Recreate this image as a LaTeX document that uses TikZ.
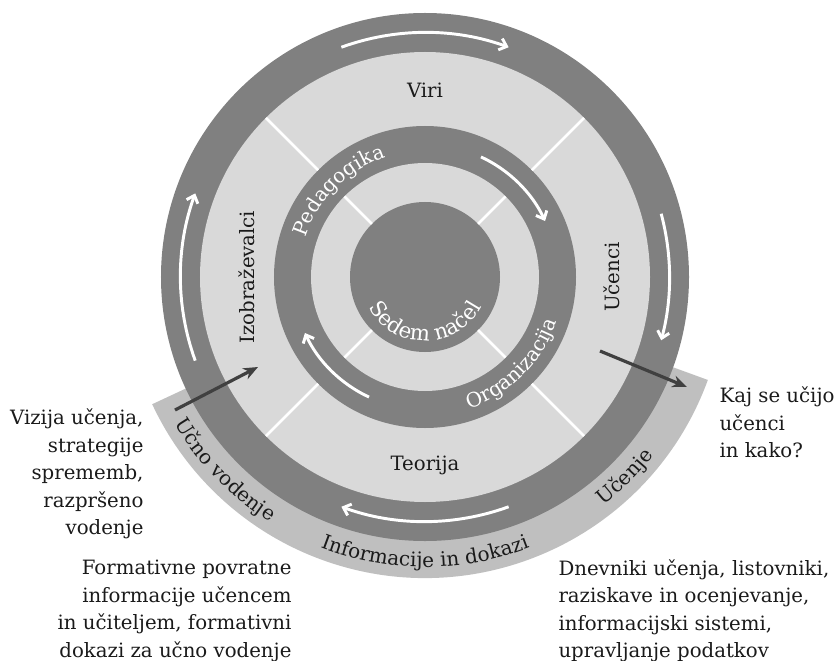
\documentclass[tikz,border=0pt]{standalone}
\usepackage{fontspec}
\setmainfont{DejaVu Serif}
\usetikzlibrary{arrows.meta,decorations.text}

\definecolor{ringdark}{HTML}{808080}
\definecolor{ringlight}{HTML}{D9D9D9}
\definecolor{bandgrey}{HTML}{BFBFBF}
\definecolor{pointer}{HTML}{404040}
\definecolor{inkblack}{HTML}{1A1A1A}

\tikzset{every picture/.style={line width=0.75pt}}
\tikzset{
  lbl/.style={inner sep=0.75pt, text=inkblack, font=\fontsize{14.8}{20.6}\selectfont},
  flowarrow/.style={white, line width=2.2pt, -{Straight Barb[length=5pt,width=9pt]}},
  pointarrow/.style={pointer, line width=2.4pt, -{Stealth[length=11pt,width=9pt]}},
  divider/.style={white, line width=2pt},
  ringtext/.style={decorate, decoration={text along path, text align=center,
    text color=white, text={|\fontsize{15}{15}\selectfont|#1}}},
  coretext/.style={decorate, decoration={text along path, text align=center,
    text color=white, text={|\fontsize{16}{16}\selectfont|#1}}},
  bandtext/.style={decorate, decoration={text along path, text align=center,
    text color=inkblack, text={|\fontsize{15}{15}\selectfont|#1}}},
}

\begin{document}
\begin{tikzpicture}[x=0.75pt,y=0.75pt]
	\useasboundingbox (-425,-383) rectangle (412,277);
	
	%Shape: Arc band
	\fill[bandgrey] (-155:250) arc[start angle=-155, end angle=-20, radius=250] -- (-20:301) arc[start angle=-20, end angle=-155, radius=301] -- cycle;
	%Shape: Circle
	\fill[ringdark] (0,0) circle[radius=264];
	\fill[ringlight] (0,0) circle[radius=225];
	\fill[ringdark] (0,0) circle[radius=151];
	\fill[ringlight] (0,0) circle[radius=114];
	\fill[ringdark] (0,0) circle[radius=75];
	
	%Straight Lines
	\foreach \a in {45,135,225,315}{
		\draw[divider] (\a:151) -- (\a:225);
		\draw[divider] (\a:75) -- (\a:114);
	}
	
	%Curve Lines
	\draw[flowarrow] (110:244.5) arc[start angle=110, end angle=70, radius=244.5];
	\draw[flowarrow] (15:244.5) arc[start angle=15, end angle=-15, radius=244.5];
	\draw[flowarrow] (-70:244.5) arc[start angle=-70, end angle=-110, radius=244.5];
	\draw[flowarrow] (200:244.5) arc[start angle=200, end angle=160, radius=244.5];
	\draw[flowarrow] (65:132.5) arc[start angle=65, end angle=25, radius=132.5];
	\draw[flowarrow] (245:132.5) arc[start angle=245, end angle=205, radius=132.5];
	
	% Curved Text
	\path[ringtext=Pedagogika] (180:126) arc[start angle=180, end angle=90, radius=126];
	\path[ringtext=Organizacija] (-90:139) arc[start angle=-90, end angle=0, radius=139];
	\path[coretext=Sedem načel] (180:64) arc[start angle=180, end angle=360, radius=64];
	\path[bandtext=Učno vodenje] (180:290) arc[start angle=180, end angle=268, radius=290];
	\path[bandtext=Informacije in dokazi] (225:290) arc[start angle=225, end angle=315, radius=290];
	\path[bandtext=Učenje] (-90:290) arc[start angle=-90, end angle=0, radius=290];
	
	% Text Node
	\node[lbl] (viri) at (0,187) {Viri};
	% Text Node
	\node[lbl] (teorija) at (0,-188) {Teorija};
	% Text Node
	\node[lbl, rotate=90] (izobr) at (-178,0) {Izobraževalci};
	% Text Node
	\node[lbl, rotate=90] (ucenci) at (187,0) {Učenci};
	% Text Node
	\node[lbl, anchor=east, align=right] (vizija) at (-280,-197) {Vizija učenja,\\strategije\\sprememb,\\razpršeno\\vodenje};
	% Text Node
	\node[lbl, anchor=west, align=left] (kaj) at (293,-145.5) {Kaj se učijo\\učenci\\in kako?};
	% Text Node
	\node[lbl, anchor=east, align=right] (formativne) at (-132,-334) {Formativne povratne\\informacije učencem\\in učiteljem, formativni\\dokazi za učno vodenje};
	% Text Node
	\node[lbl, anchor=west, align=left] (dnevniki) at (132,-334) {Dnevniki učenja, listovniki,\\raziskave in ocenjevanje,\\informacijski sistemi,\\upravljanje podatkov};
	
	%Straight Lines
	\coordinate (vodstart) at (-250,-133);
	\coordinate (vodend) at (-167,-90);
	\coordinate (ucstart) at (175,-74);
	\coordinate (ucend) at (262,-110);
	\draw[pointarrow] (vodstart) -- (vodend);
	\draw[pointarrow] (ucstart) -- (ucend);
	
\end{tikzpicture}
\end{document}
